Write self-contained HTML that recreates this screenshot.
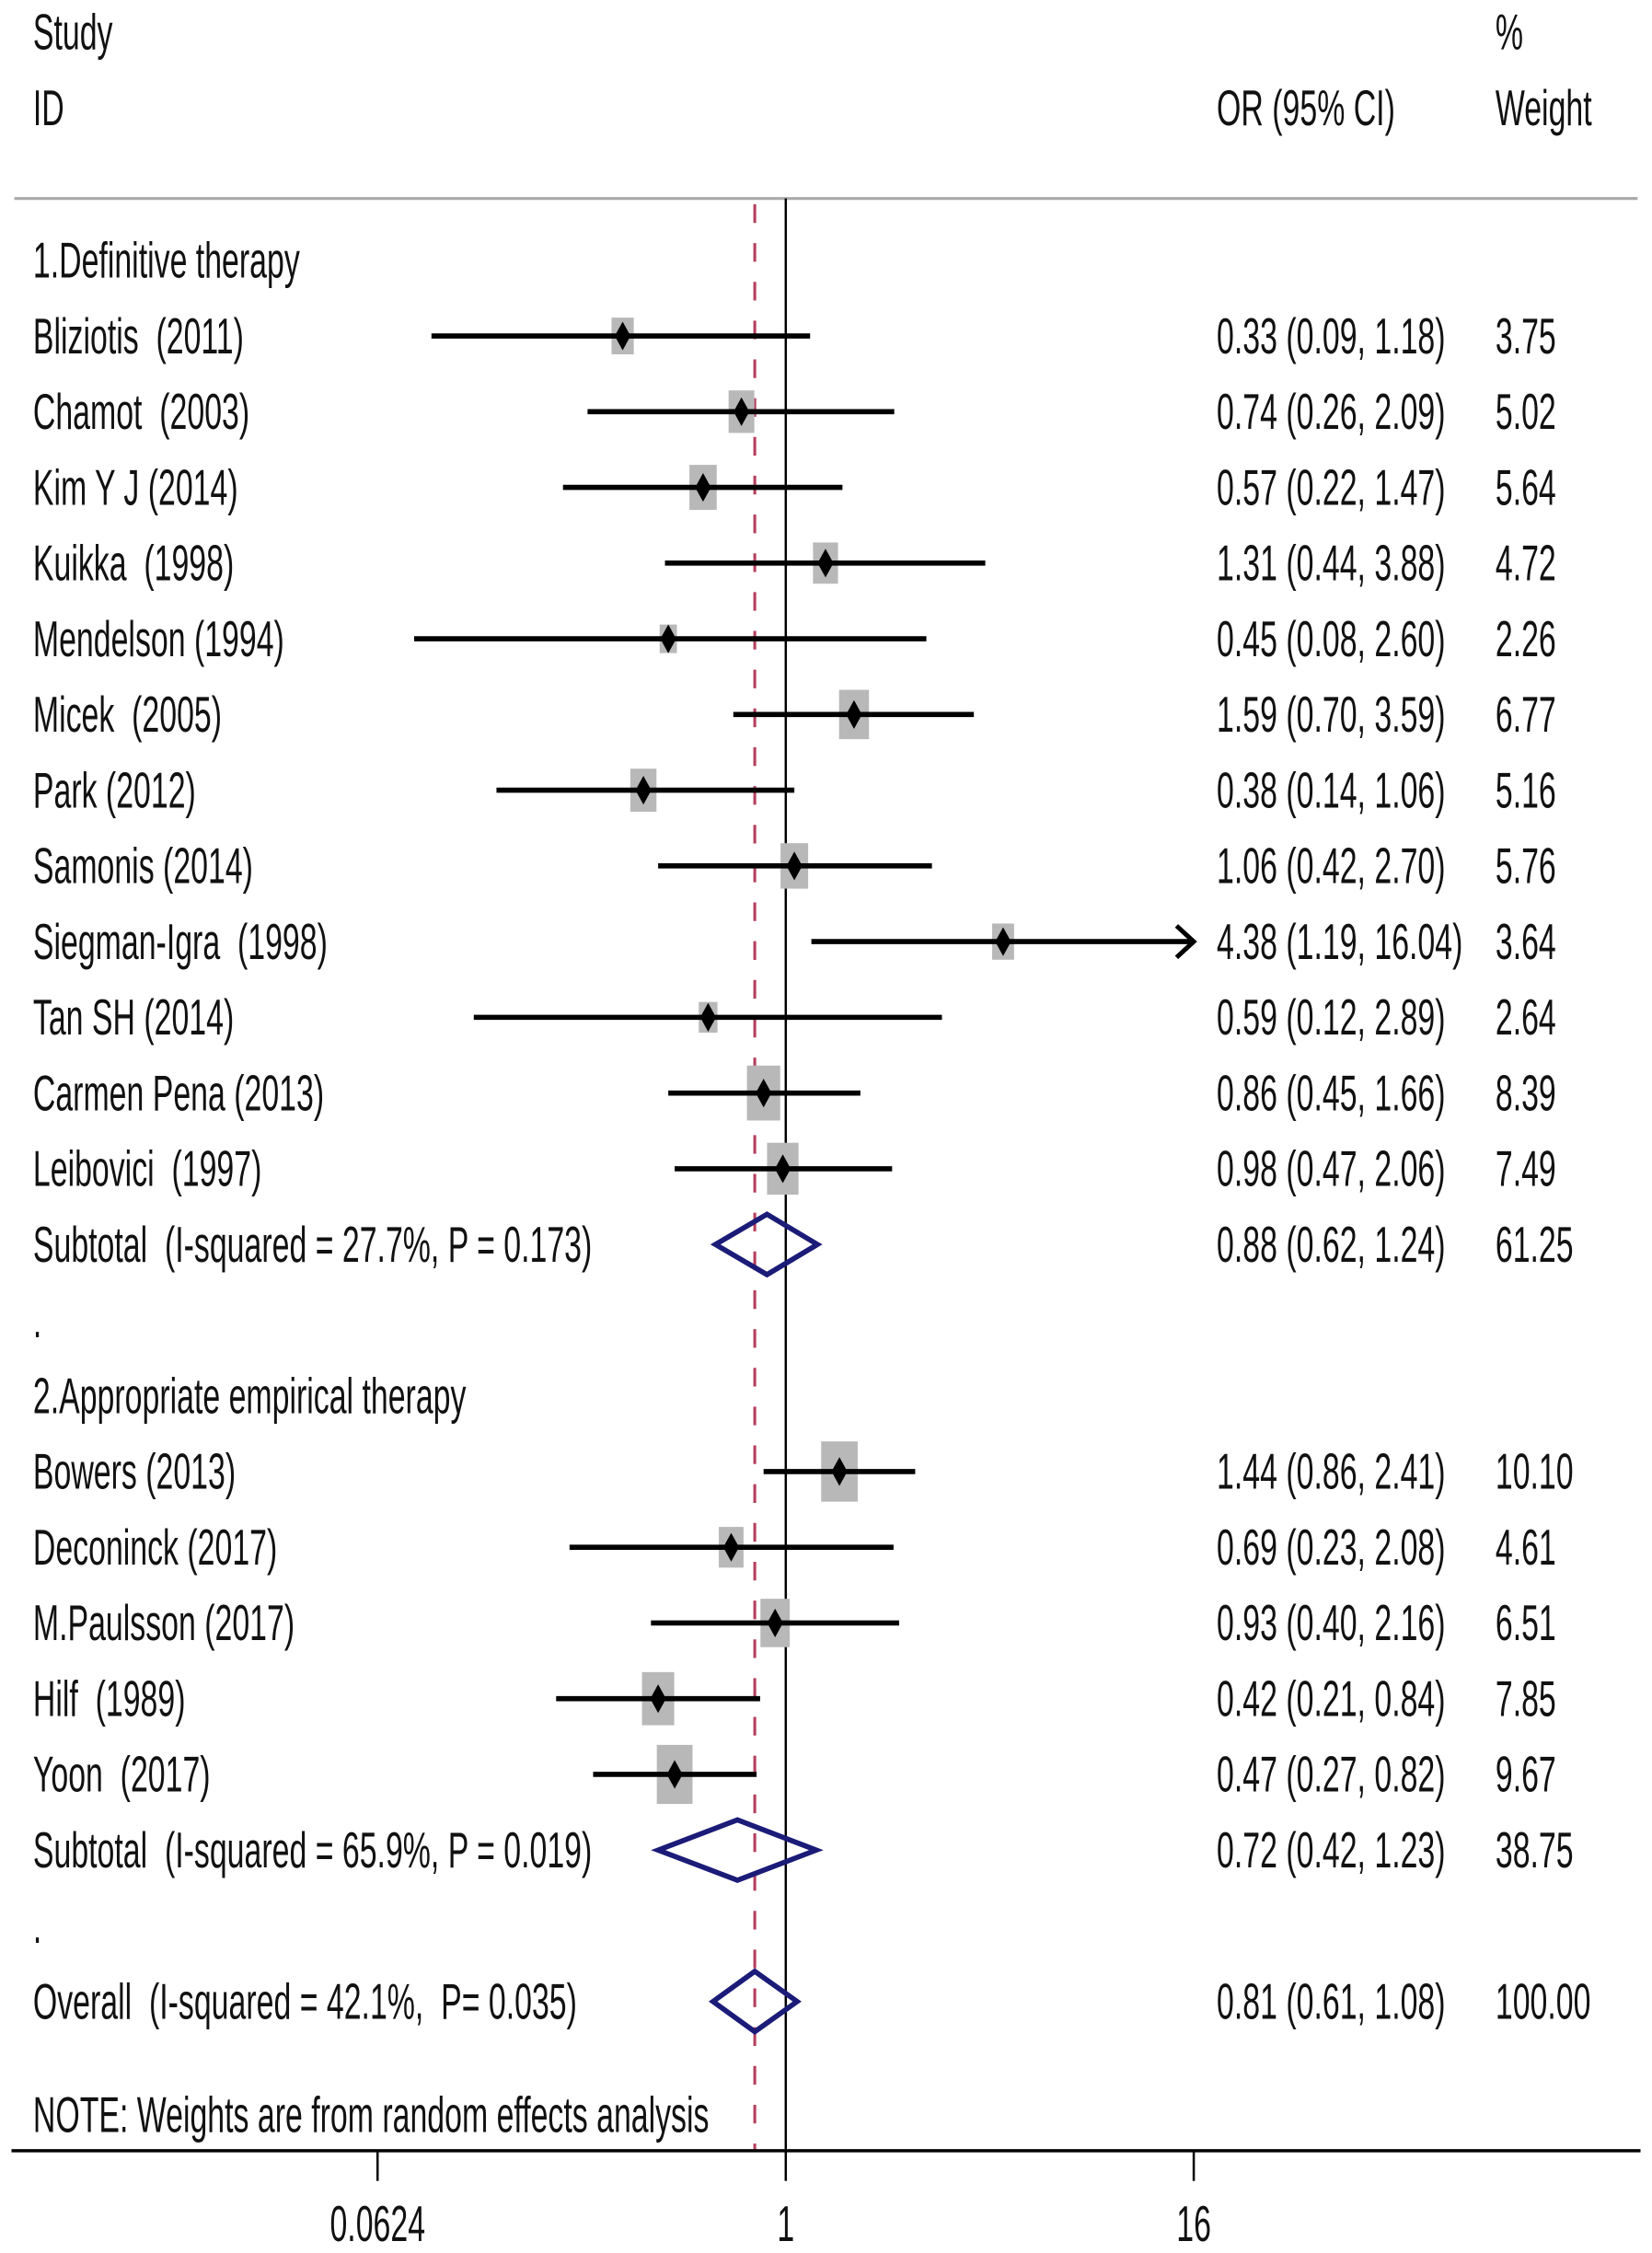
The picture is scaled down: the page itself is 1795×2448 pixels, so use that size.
<!DOCTYPE html>
<html><head><meta charset="utf-8"><style>
html,body{margin:0;padding:0;background:#fff;}
svg{display:block;}
text{font-family:"Liberation Sans",sans-serif;fill:#111;white-space:pre;}
</style></head>
<body>
<svg id="chart" width="1795" height="2448" viewBox="0 0 1150 1568" xmlns="http://www.w3.org/2000/svg"></svg>
<script>
const studyNames = ["Bliziotis  (2011)","Chamot  (2003)","Kim Y J (2014)","Kuikka  (1998)","Mendelson (1994)","Micek  (2005)","Park (2012)","Samonis (2014)","Siegman-Igra  (1998)","Tan SH (2014)","Carmen Pena (2013)","Leibovici  (1997)","Bowers (2013)","Deconinck (2017)","M.Paulsson (2017)","Hilf  (1989)","Yoon  (2017)"];
const studyOR = [0.33,0.74,0.57,1.31,0.45,1.59,0.38,1.06,4.38,0.59,0.86,0.98,1.44,0.69,0.93,0.42,0.47];
const studyLo = [0.09,0.26,0.22,0.44,0.08,0.70,0.14,0.42,1.19,0.12,0.45,0.47,0.86,0.23,0.40,0.21,0.27];
const studyHi = [1.18,2.09,1.47,3.88,2.60,3.59,1.06,2.70,16.04,2.89,1.66,2.06,2.41,2.08,2.16,0.84,0.82];
const studyWeight = ["3.75","5.02","5.64","4.72","2.26","6.77","5.16","5.76","3.64","2.64","8.39","7.49","10.10","4.61","6.51","7.85","9.67"];
const studyRow = [1,2,3,4,5,6,7,8,9,10,11,12,16,17,18,19,20];
const pooledNames = ["Subtotal  (I-squared = 27.7%, P = 0.173)","Subtotal  (I-squared = 65.9%, P = 0.019)","Overall  (I-squared = 42.1%,  P= 0.035)"];
const pooledOR = [0.88,0.72,0.81];
const pooledLo = [0.62,0.42,0.61];
const pooledHi = [1.24,1.23,1.08];
const pooledWeight = ["61.25","38.75","100.00"];
const pooledRow = [13,21,23];
const tickValues = [0.0624,1,16];
const tickLabels = ["0.0624","1","16"];

const svg = document.getElementById('chart');
const NS = "http://www.w3.org/2000/svg";
const X0 = 547, PX = 71;
const xs = v => X0 + Math.log2(v) * PX;
const ROW0 = 181, RS = 52.7;
const ys = r => ROW0 + r * RS;
const XMAX = 831;
function el(tag, attrs){const e=document.createElementNS(NS,tag);for(const k in attrs)e.setAttribute(k,attrs[k]);svg.appendChild(e);return e;}
function txt(s,x,y,name,anchor){
  const t=el('text',{transform:`translate(${x},${y}) scale(0.62,1)`,'font-size':35,'text-anchor':anchor||'start'});
  t.setAttributeNS("http://www.w3.org/XML/1998/namespace","xml:space","preserve");
  t.textContent=s;
  
  
  return t;
}
const fmt = v => v.toFixed(2);
const ciText = (o,l,h) => `${fmt(o)} (${fmt(l)}, ${fmt(h)})`;

txt("Study",23,34,'study-header');
txt("ID",23,87,'id-header');
txt("OR (95% CI)",847,87,'or-header');
txt("%",1041,34,'percent-header');
txt("Weight",1041,87,'weight-header');
let hl=el('line',{x1:10,y1:138,x2:1140,y2:138,stroke:'#aaa','stroke-width':2});



let nl=el('line',{x1:xs(1),y1:138,x2:xs(1),y2:1497,stroke:'#000','stroke-width':1.6});


let ol=el('line',{x1:xs(pooledOR[2]),y1:142,x2:xs(pooledOR[2]),y2:1497,stroke:'#b5405e','stroke-width':2,'stroke-dasharray':'13 14'});



txt("1.Definitive therapy",23,ys(0)+12,'group-label-definitive');
txt(".",23,ys(14)+12,'spacer-dot');
txt("2.Appropriate empirical therapy",23,ys(15)+12,'group-label-empirical');
txt(".",23,ys(22)+12,'spacer-dot');
txt("NOTE: Weights are from random effects analysis",23,1484,'note-text');

studyNames.forEach((n,i)=>{
  const y=ys(studyRow[i]);
  txt(n,23,y+12,'study-label');
  txt(ciText(studyOR[i],studyLo[i],studyHi[i]),847,y+12,'study-ci-text');
  txt(studyWeight[i],1041,y+12,'study-weight-text');
  const w=parseFloat(studyWeight[i]);
  const bw=8*Math.sqrt(w), bh=bw*1.65;
  const b=el('rect',{x:xs(studyOR[i])-bw/2,y:y-bh/2,width:bw,height:bh,fill:'#b8b8b8'});
  
  
  const hiX=Math.min(xs(studyHi[i]),XMAX);
  const l=el('line',{x1:xs(studyLo[i]),y1:y,x2:hiX,y2:y,stroke:'#000','stroke-width':3.6});
  
  
  if(xs(studyHi[i])>XMAX){
    const a=el('polyline',{points:`${XMAX-12},${y-11} ${XMAX},${y} ${XMAX-12},${y+11}`,fill:'none',stroke:'#000','stroke-width':3.2});
    
    
  }
  const cx=xs(studyOR[i]);
  const d=el('polygon',{points:`${cx},${y-10} ${cx+5.5},${y} ${cx},${y+10} ${cx-5.5},${y}`,fill:'#000'});
  
  
});

pooledNames.forEach((n,i)=>{
  const y=ys(pooledRow[i]);
  txt(n,23,y+12,'pooled-label');
  txt(ciText(pooledOR[i],pooledLo[i],pooledHi[i]),847,y+12,'pooled-ci-text');
  txt(pooledWeight[i],1041,y+12,'pooled-weight-text');
  const c=xs(pooledOR[i]),l=xs(pooledLo[i]),h=xs(pooledHi[i]);
  const d=el('polygon',{points:`${l},${y} ${c},${y-21} ${h},${y} ${c},${y+21}`,fill:'none',stroke:'#1b1b78','stroke-width':3.6});
  
  
});

const ax=el('line',{x1:8,y1:1497,x2:1142,y2:1497,stroke:'#000','stroke-width':2.2});


tickValues.forEach((v,i)=>{
  const x=xs(v);
  const t=el('line',{x1:x,y1:1497,x2:x,y2:1518,stroke:'#000','stroke-width':1.6});
  
  
  txt(tickLabels[i],x,1560,'x-tick-label','middle');
});
</script>
</body></html>
